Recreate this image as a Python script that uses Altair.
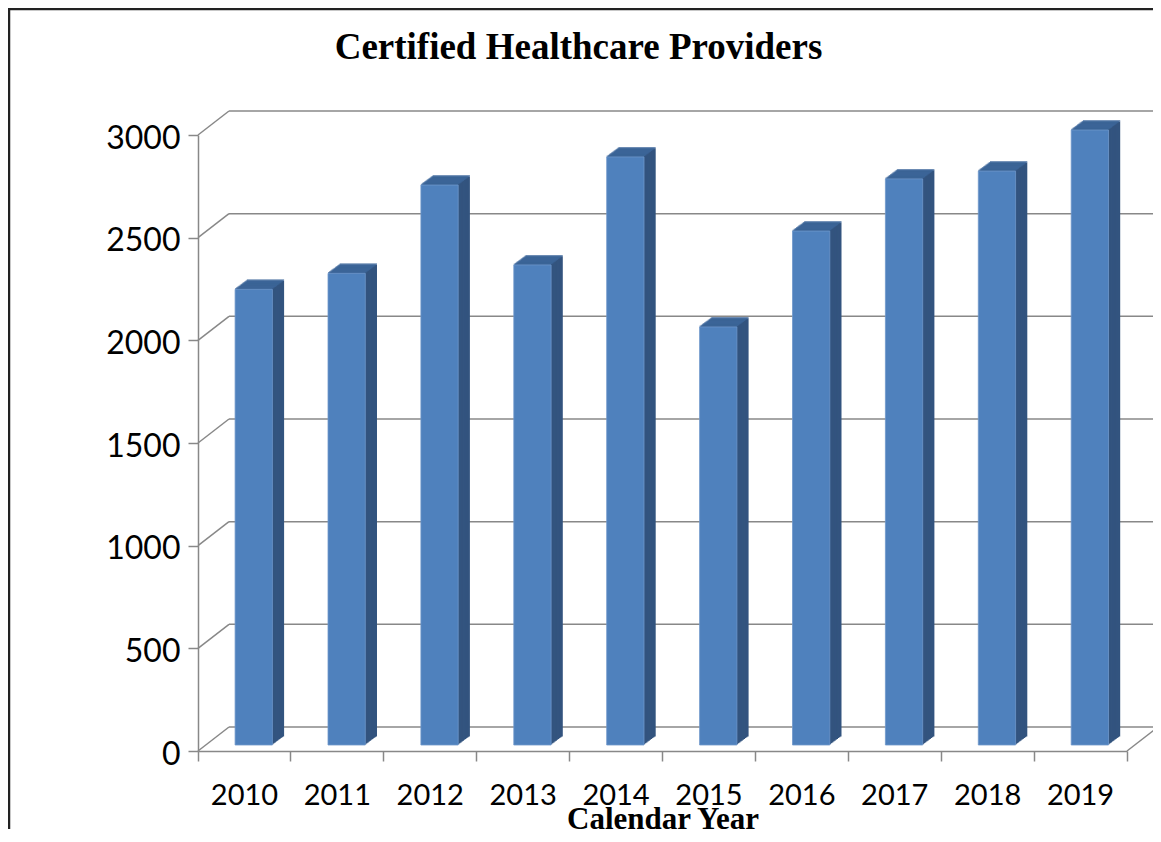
import altair as alt
import pandas as pd

# ---- data ----
years = ["2010", "2011", "2012", "2013", "2014", "2015", "2016", "2017", "2018", "2019"]
providers = [2219, 2297, 2727, 2338, 2864, 2036, 2503, 2757, 2795, 2995]
grid_values = [0, 500, 1000, 1500, 2000, 2500, 3000]
floor_value = [0]
chart_title = "Certified Healthcare Providers"
x_title = "Calendar Year"

df = pd.DataFrame({"year": years, "providers": providers})
grid_df = pd.DataFrame({"providers": grid_values})
floor_df = pd.DataFrame({"providers": floor_value})
title_df = pd.DataFrame({"t": [chart_title]})

# ---- geometry / style ----
W, H = 929, 616
BAR_W = 37.3
FX, FY = 9.3, -6.0          # front face pushed into depth
SDX, SDY = 11.7, 8.6        # bar depth
WDX, WDY = 31, 24           # wall depth
K = 10
FRONT = "#4F81BD"
SIDE = "#33547F"
TOP = "#3D669B"
GRID = "#888888"

x_scale = alt.Scale(domain=years, paddingInner=0, paddingOuter=0)
y_scale = alt.Scale(domain=[0, 3000], nice=False)

x_axis = alt.Axis(
    bandPosition=1, tickExtra=True,
    tickSize=10, tickColor=GRID, tickWidth=1.5,
    domainColor=GRID, domainWidth=1.5,
    labelFont="Lato", labelFontSize=29, labelColor="black", labelAngle=0,
    labelBaseline="alphabetic", labelPadding=43,
    titleFont="Liberation Serif", titleFontSize=31, titleFontWeight="bold",
    titleColor="black", titleBaseline="alphabetic", titleY=77,
    grid=False,
)
y_axis = alt.Axis(
    values=grid_values, format="d", tickSize=10, tickColor=GRID, tickWidth=1.5,
    domainColor=GRID, domainWidth=1.5,
    labelFont="Lato", labelFontSize=32, labelColor="black", labelPadding=8,
    labelOffset=3,
    grid=False, title=None,
)

X = alt.X("year:N", scale=x_scale, axis=x_axis, title=x_title)
Y = alt.Y("providers:Q", scale=y_scale, axis=y_axis, title=None)

layers = []

# back wall grid lines
layers.append(
    alt.Chart(grid_df).mark_rule(color=GRID, strokeWidth=1.5, yOffset=-WDY, y2Offset=-WDY)
    .encode(y=Y, x=alt.value(WDX), x2=alt.value(W + WDX))
)
# side wall diagonals
layers.append(
    alt.Chart(grid_df).mark_rule(color=GRID, strokeWidth=1.5, x2Offset=WDX, y2Offset=-WDY)
    .encode(y=Y, y2=alt.Y2("providers:Q"), x=alt.value(0), x2=alt.value(0))
)
# right floor diagonal
layers.append(
    alt.Chart(floor_df).mark_rule(color=GRID, strokeWidth=1.5, x2Offset=WDX, y2Offset=-WDY)
    .encode(y=Y, y2=alt.Y2("providers:Q"), x=alt.value(W), x2=alt.value(W))
)

# side faces (stacked shifted copies)
for k in range(K, 0, -1):
    ox = FX + SDX * k / K
    oy = FY - SDY * k / K
    layers.append(
        alt.Chart(df).mark_bar(color=SIDE, width=BAR_W, xOffset=ox, yOffset=oy, y2Offset=oy)
        .encode(x=X, y=Y)
    )
# top faces
for k in range(K, -1, -1):
    ox = FX + SDX * k / K
    oy = FY - SDY * k / K - 0.6
    layers.append(
        alt.Chart(df).mark_tick(color=TOP, size=BAR_W, thickness=1.6, xOffset=ox, yOffset=oy)
        .encode(x=X, y=Y)
    )
# front faces
layers.append(
    alt.Chart(df).mark_bar(color=FRONT, width=BAR_W, xOffset=FX, yOffset=FY, y2Offset=FY,
                           stroke="#6E97CA", strokeWidth=0.8)
    .encode(x=X, y=Y)
)

# chart title
layers.append(
    alt.Chart(title_df).mark_text(font="Liberation Serif", fontSize=37, fontWeight="bold",
                                  align="center", baseline="alphabetic", color="black")
    .encode(text="t:N", x=alt.value(380.5), y=alt.value(-76))
)

# outer frame (top and left edges)
frame_df = pd.DataFrame({"f": [0]})
layers.append(
    alt.Chart(frame_df).mark_rule(color="#222222", strokeWidth=2.5)
    .encode(x=alt.value(-190), x2=alt.value(970), y=alt.value(-126))
)
layers.append(
    alt.Chart(frame_df).mark_rule(color="#222222", strokeWidth=2.5)
    .encode(x=alt.value(-189), y=alt.value(-127), y2=alt.value(720))
)

chart = (
    alt.layer(*layers)
    .properties(
        width=W, height=H,
        padding={"left": 190, "top": 127, "right": 26, "bottom": 78},
        autosize=alt.AutoSizeParams(type="none"),
    )
    .configure_view(stroke=None)
)

chart.save("out.html", embed_options={"renderer": "svg", "actions": False})
